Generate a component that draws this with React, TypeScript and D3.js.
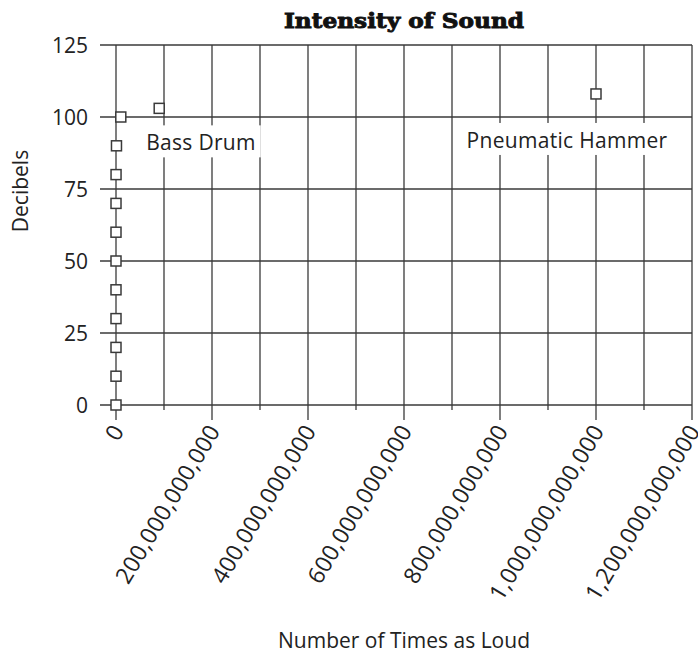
import React, { useEffect, useRef } from 'react';
import * as d3 from 'd3';

// ---- data ----
const decibels = [0, 10, 20, 30, 40, 50, 60, 70, 80, 90, 100];
const timesAsLoud = [1, 10, 100, 1000, 10000, 100000, 1000000, 10000000, 100000000, 1000000000, 10000000000];
const namedSounds = ['Bass Drum', 'Pneumatic Hammer'];
const namedDecibels = [103, 108];
const namedTimesAsLoud = [90000000000, 1000000000000];
const xGridValues = [0, 100e9, 200e9, 300e9, 400e9, 500e9, 600e9, 700e9, 800e9, 900e9, 1000e9, 1100e9, 1200e9];
const xTickValues = [0, 200e9, 400e9, 600e9, 800e9, 1000e9, 1200e9];
const yTickValues = [0, 25, 50, 75, 100, 125];
const chartTitle = 'Intensity of Sound';
const xTitle = 'Number of Times as Loud';
const yTitle = 'Decibels';

const W = 698;
const H = 655;
const FONT = "'Open Sans', 'Noto Sans', sans-serif";
const INK = '#3a3a3a';

export default function App() {
  const ref = useRef<SVGSVGElement | null>(null);

  useEffect(() => {
    document.body.style.margin = '0';
    document.body.style.overflow = 'hidden';
    const svg = d3.select(ref.current);
    svg.selectAll('*').remove();

    const x = d3.scaleLinear().domain([0, 1200e9]).range([116, 692]);
    const y = d3.scaleLinear().domain([0, 125]).range([405, 45]);
    const [x0, x1] = x.range();
    const [yb, yt] = y.range();

    svg.append('rect').attr('width', W).attr('height', H).attr('fill', '#fff');

    // horizontal gridlines (with left tick)
    svg.append('g').selectAll('line').data(yTickValues).join('line')
      .attr('x1', x0 - 16).attr('x2', x1)
      .attr('y1', (d) => y(d)).attr('y2', (d) => y(d))
      .attr('stroke', INK).attr('stroke-width', 1.3);

    // vertical gridlines (with bottom ticks)
    svg.append('g').selectAll('line').data(xGridValues).join('line')
      .attr('x1', (d) => x(d)).attr('x2', (d) => x(d))
      .attr('y1', yt)
      .attr('y2', (d) => (xTickValues.includes(d) ? yb + 15 : yb + 5))
      .attr('stroke', INK).attr('stroke-width', 1.3);

    // y tick labels
    svg.append('g').selectAll('text').data(yTickValues).join('text')
      .attr('x', x0 - 28).attr('y', (d) => y(d))
      .attr('dy', '0.36em')
      .attr('text-anchor', 'end')
      .attr('font-family', FONT).attr('font-size', 21).attr('fill', '#222')
      .text((d) => String(d));

    // x tick labels (rotated)
    const fmt = d3.format(',.0f');
    svg.append('g').selectAll('text').data(xTickValues).join('text')
      .attr('transform', (d) => `translate(${x(d) + 9},${yb + 26}) rotate(-59)`)
      .attr('text-anchor', 'end')
      .attr('font-family', FONT).attr('font-size', 23).attr('letter-spacing', 0.3).attr('fill', '#222')
      .text((d) => fmt(d));

    // labels with white boxes
    const labelGroup = svg.append('g');
    namedSounds.forEach((name, i) => {
      const px = x(namedTimesAsLoud[i]);
      const py = y(namedDecibels[i]);
      const g = labelGroup.append('g');
      const t = g.append('text')
        .attr('x', i === 0 ? px - 13 : px - 29)
        .attr('y', i === 0 ? py + 42 : py + 54)
        .attr('text-anchor', i === 0 ? 'start' : 'middle')
        .attr('font-family', FONT).attr('font-size', 21).attr('letter-spacing', 0.3).attr('fill', '#222')
        .text(name);
      const bb = (t.node() as SVGTextElement).getBBox();
      g.insert('rect', 'text')
        .attr('x', bb.x - 5).attr('y', bb.y - 3)
        .attr('width', bb.width + 10).attr('height', bb.height + 4)
        .attr('fill', '#fff');
    });

    // markers
    const pts = decibels.map((d, i) => ({ x: timesAsLoud[i], y: d }))
      .concat(namedDecibels.map((d, i) => ({ x: namedTimesAsLoud[i], y: d })));
    svg.append('g').selectAll('rect').data(pts).join('rect')
      .attr('x', (d) => x(d.x) - 5).attr('y', (d) => y(d.y) - 5)
      .attr('width', 10).attr('height', 10)
      .attr('fill', '#fff').attr('stroke', INK).attr('stroke-width', 1.5);

    // title
    svg.append('text')
      .attr('x', (x0 + x1) / 2).attr('y', 28)
      .attr('text-anchor', 'middle')
      .attr('font-family', "'DejaVu Serif', serif").attr('font-weight', 'bold')
      .attr('font-size', 20).attr('fill', '#111')
      .attr('stroke', '#111').attr('stroke-width', 0.9)
      .attr('textLength', 240).attr('lengthAdjust', 'spacingAndGlyphs')
      .text(chartTitle);

    // axis titles
    svg.append('text')
      .attr('x', (x0 + x1) / 2).attr('y', 648)
      .attr('text-anchor', 'middle')
      .attr('font-family', FONT).attr('font-size', 21).attr('fill', '#222')
      .text(xTitle);

    svg.append('text')
      .attr('transform', `translate(28,191) rotate(-90)`)
      .attr('text-anchor', 'middle')
      .attr('font-family', FONT).attr('font-size', 21).attr('fill', '#222')
      .text(yTitle);
  }, []);

  return <svg ref={ref} width={W} height={H} style={{ display: 'block' }} />;
}
